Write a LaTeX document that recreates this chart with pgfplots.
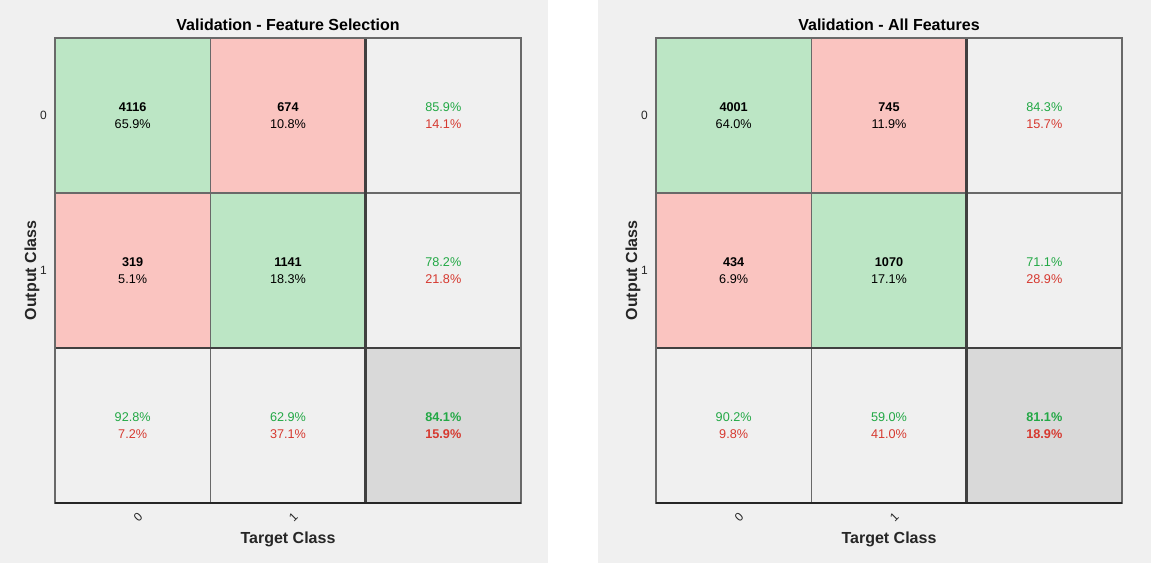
\documentclass[border=0pt]{standalone}
\usepackage{fontspec}
\setmainfont{Liberation Sans}
\usepackage{pgfplots}
\usepackage{pgfplotstable}
\pgfplotsset{compat=1.18}
\definecolor{bg}{RGB}{240,240,240}
\definecolor{tgreen}{RGB}{34,168,69}
\definecolor{tred}{RGB}{214,57,48}
\definecolor{gline}{RGB}{105,105,105}
\definecolor{dline}{RGB}{64,64,64}
\definecolor{txt}{RGB}{38,38,38}

% cell colour classes: 0 correct, 1 wrong, 2 summary, 3 overall
\pgfplotstableread{
x y c
0.5 0.5 0
1.5 0.5 1
2.5 0.5 2
0.5 1.5 1
1.5 1.5 0
2.5 1.5 2
0.5 2.5 2
1.5 2.5 2
2.5 2.5 3
}\cells

\newcommand{\cnt}[4]{\node[align=center,font=\fontsize{9.5}{12.75}\selectfont,text=black] at (axis cs:#1,#2) {\textbf{#3}\\#4};}
\newcommand{\pct}[4]{\node[align=center,font=\fontsize{9.5}{12.75}\selectfont] at (axis cs:#1,#2) {\textcolor{tgreen}{#3}\\\textcolor{tred}{#4}};}
\newcommand{\pctb}[4]{\node[align=center,font=\fontsize{9.5}{12.75}\selectfont\bfseries] at (axis cs:#1,#2) {\textcolor{tgreen}{#3}\\\textcolor{tred}{#4}};}
\newcommand{\grid}{%
  \draw[gline, line width=1.1pt] (axis cs:1,0) -- (axis cs:1,3);
  \draw[gline, line width=1.1pt] (axis cs:0,1) -- (axis cs:3,1);
  \draw[dline, line width=2.2pt] (axis cs:2,0) -- (axis cs:2,3);
  \draw[dline, line width=2.2pt] (axis cs:0,2) -- (axis cs:3,2);
  \draw[gline, line width=1.4pt] (axis cs:0,0) rectangle (axis cs:3,3);
  \draw[black!85, line width=1.4pt] (axis cs:0,3) -- (axis cs:3,3);
}

\pgfplotsset{cmstyle/.style={
  scale only axis, width=349.5pt, height=348.75pt,
  xmin=0, xmax=3, ymin=0, ymax=3, y dir=reverse,
  axis line style={draw=none},
  major tick length=0pt,
  xtick={0.5,1.5}, xticklabels={0,1},
  ytick={0.5,1.5}, yticklabels={0,1},
  /pgf/number format/assume math mode=true,
  tick label style={font=\fontsize{9}{10}\selectfont, text=txt},
  xticklabel style={inner sep=0pt, anchor=center, xshift=4pt, yshift=-11pt, rotate=45},
  yticklabel style={inner sep=0pt, anchor=east, xshift=-6pt},
  xlabel={Target Class}, ylabel={Output Class},
  label style={font=\fontsize{12}{14}\selectfont\bfseries, text=txt},
  xlabel style={at={([yshift=-27pt]axis description cs:0.5,0)}, anchor=center},
  ylabel style={at={([xshift=-17.25pt]axis description cs:0,0.5)}, anchor=center},
  title style={at={([yshift=3.75pt]axis description cs:0.5,1)}, anchor=center, font=\fontsize{12}{14}\selectfont\bfseries, text=black},
  colormap={cm}{rgb255=(188,230,197) rgb255=(250,196,192) rgb255=(240,240,240) rgb255=(217,217,217)},
  clip=false,
}}

\begin{document}
\begin{tikzpicture}
\path[use as bounding box] (0pt,0pt) rectangle (863.25pt,422.25pt);
\fill[bg] (0pt,0pt) rectangle (411pt,422.25pt);
\fill[bg] (448.5pt,0pt) rectangle (863.25pt,422.25pt);

\begin{axis}[cmstyle, at={(41.25pt,45pt)}, anchor=south west, title={Validation - Feature Selection}]
\addplot[matrix plot*, draw=none, mesh/cols=3, point meta=explicit, colormap access=direct] table[x=x, y=y, meta=c] {\cells};
\grid
\cnt{0.5}{0.5}{4116}{65.9\%}
\cnt{1.5}{0.5}{674}{10.8\%}
\pct{2.5}{0.5}{85.9\%}{14.1\%}
\cnt{0.5}{1.5}{319}{5.1\%}
\cnt{1.5}{1.5}{1141}{18.3\%}
\pct{2.5}{1.5}{78.2\%}{21.8\%}
\pct{0.5}{2.5}{92.8\%}{7.2\%}
\pct{1.5}{2.5}{62.9\%}{37.1\%}
\pctb{2.5}{2.5}{84.1\%}{15.9\%}
\end{axis}

\begin{axis}[cmstyle, at={(492pt,45pt)}, anchor=south west, title={Validation - All Features}]
\addplot[matrix plot*, draw=none, mesh/cols=3, point meta=explicit, colormap access=direct] table[x=x, y=y, meta=c] {\cells};
\grid
\cnt{0.5}{0.5}{4001}{64.0\%}
\cnt{1.5}{0.5}{745}{11.9\%}
\pct{2.5}{0.5}{84.3\%}{15.7\%}
\cnt{0.5}{1.5}{434}{6.9\%}
\cnt{1.5}{1.5}{1070}{17.1\%}
\pct{2.5}{1.5}{71.1\%}{28.9\%}
\pct{0.5}{2.5}{90.2\%}{9.8\%}
\pct{1.5}{2.5}{59.0\%}{41.0\%}
\pctb{2.5}{2.5}{81.1\%}{18.9\%}
\end{axis}
\end{tikzpicture}
\end{document}
